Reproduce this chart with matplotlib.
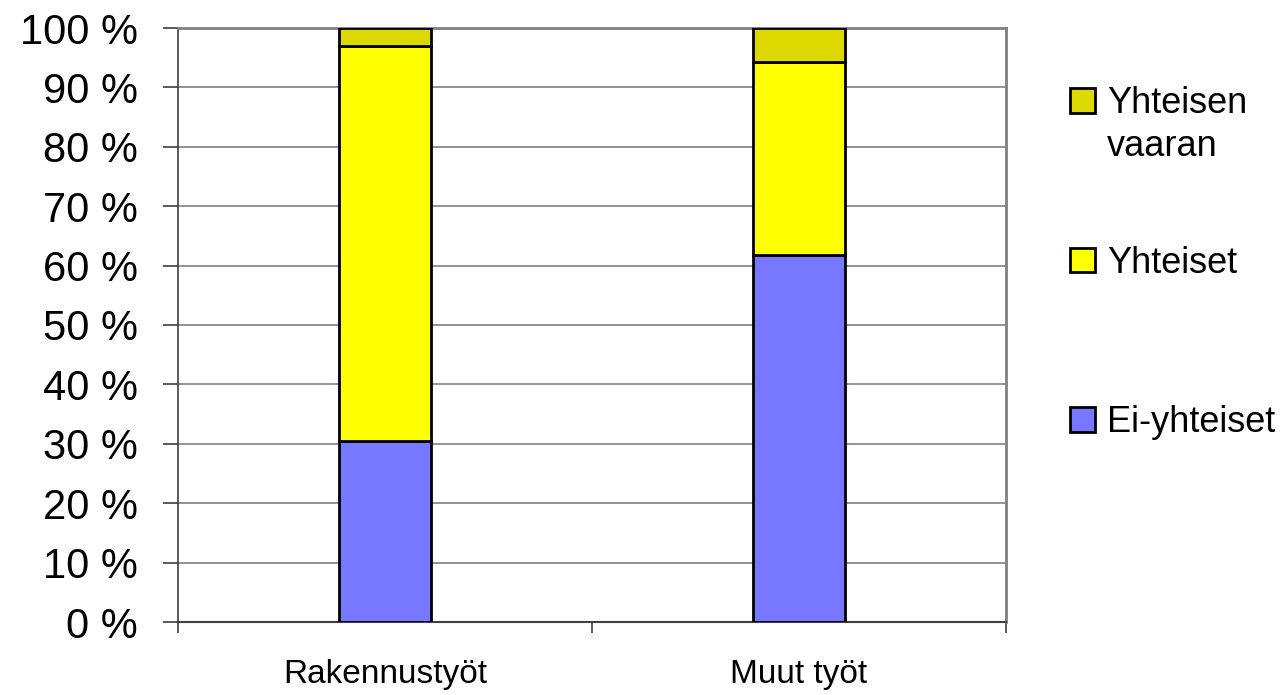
import numpy as np
import matplotlib.pyplot as plt
from matplotlib.patches import Patch

plt.rcParams['font.family'] = ['Liberation Sans', 'DejaVu Sans']

categories = ["Rakennustyöt", "Muut työt"]
ei_yhteiset = [30.5, 61.8]
yhteiset = [66.5, 32.5]
yhteisen_vaaran = [3.0, 5.7]

series = [("Ei-yhteiset", ei_yhteiset, "#7777FF"),
          ("Yhteiset", yhteiset, "#FFFF00"),
          ("Yhteisen vaaran", yhteisen_vaaran, "#DDD800")]

fig = plt.figure(figsize=(12.86, 6.95), dpi=100)
ax = fig.add_axes([178/1286, 1 - 622/695, (1006-178)/1286, (622-28)/695])

x = np.arange(len(categories))
bottom = np.zeros(len(categories))
handles = []
for name, vals, color in series:
    ax.bar(x, vals, width=0.22, bottom=bottom, color=color,
           edgecolor="black", linewidth=2, zorder=3)
    bottom += np.array(vals)
    handles.append(Patch(facecolor=color, edgecolor="black", linewidth=2))

ax.set_xlim(-0.5, 1.5)
ax.set_ylim(0, 100)
ax.set_yticks(np.arange(0, 101, 10))
ax.set_yticklabels([f"{v} %" for v in range(0, 101, 10)], fontsize=30)
ax.yaxis.grid(True, color="#808080", linewidth=1.2, zorder=0)
ax.tick_params(axis="y", length=11, width=1.2, color="#404040", pad=18)

ax.set_xticks(x)
ax.set_xticklabels(categories, fontsize=24)
ax.set_xticks([-0.5, 0.5, 1.5], minor=True)
ax.tick_params(axis="x", which="major", length=0, pad=27)
ax.tick_params(axis="x", which="minor", length=8, width=1.2, color="#404040")

for s in ["top", "right"]:
    ax.spines[s].set_color("#808080")
    ax.spines[s].set_linewidth(2)
ax.spines["left"].set_color("#404040")
ax.spines["left"].set_linewidth(1.2)
ax.spines["bottom"].set_color("#404040")
ax.spines["bottom"].set_linewidth(1.5)

labels = ["Yhteisen", "Yhteiset", "Ei-yhteiset"]
leg = fig.legend(handles[::-1], labels, loc="upper left",
                 bbox_to_anchor=(1070/1286, 1 - 86/695), frameon=False,
                 fontsize=26, handlelength=0.7, handleheight=0.68,
                 handletextpad=0.33, labelspacing=3.45, borderpad=0,
                 borderaxespad=0)

fig.canvas.draw()
bb = leg.get_texts()[0].get_window_extent()
fig.text(bb.x0 / 1286, (bb.y0 - 8) / 695, "vaaran", fontsize=26,
         ha="left", va="top")

fig.savefig("out.png", dpi=100)
